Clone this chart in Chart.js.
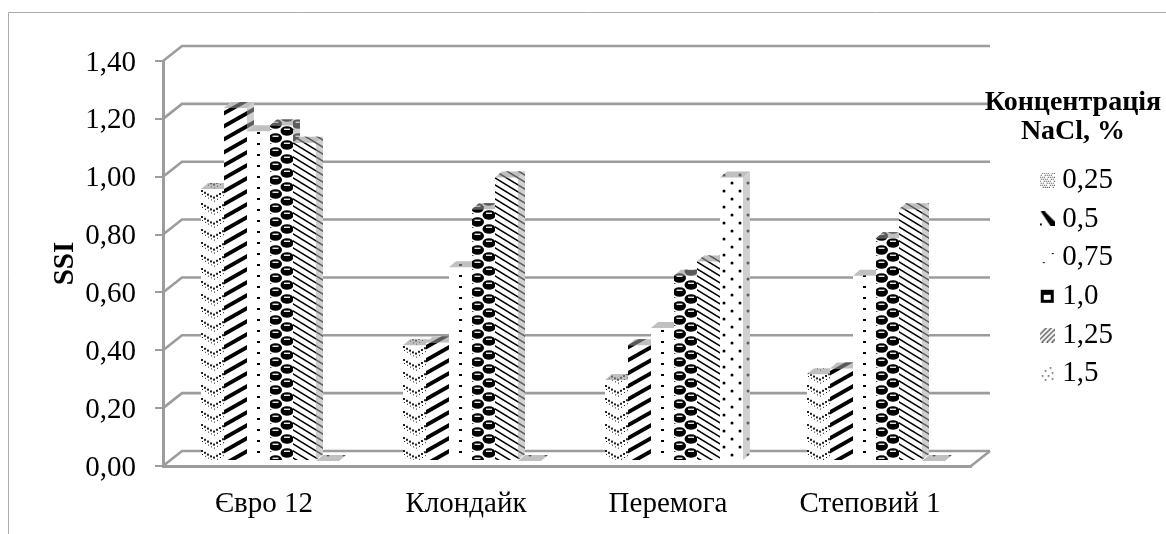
<!DOCTYPE html>
<html>
<head>
<meta charset="utf-8">
<style>html,body{margin:0;padding:0;background:#fff}#wrap{width:1166px;height:534px;position:relative}</style>
<script src="https://cdn.jsdelivr.net/npm/chart.js@4"></script>
</head>
<body>
<div id="wrap"><canvas id="chart" width="1166" height="534"></canvas></div>
<script>
// SSI by variety and NaCl concentration
const categories = ['Євро 12', 'Клондайк', 'Перемога', 'Степовий 1'];
const concentrations = ['0,25', '0,5', '0,75', '1,0', '1,25', '1,5'];
const legendHeading = ['Концентрація', 'NaCl, %'];
const ssi025 = [0.94, 0.40, 0.28, 0.30];
const ssi05  = [1.22, 0.41, 0.40, 0.32];
const ssi075 = [1.14, 0.67, 0.46, 0.64];
const ssi10  = [1.16, 0.87, 0.64, 0.77];
const ssi125 = [1.10, 0.98, 0.69, 0.87];
const ssi15  = [0.00, 0.00, 0.98, 0.00];
const seriesValues = [ssi025, ssi05, ssi075, ssi10, ssi125, ssi15];

const SERIF = '"Liberation Serif", "Times New Roman", serif';
const AXIS_GRAY = '#9c9c9c';
const BAR_W = 23, GROUP_W = BAR_W * 6;
const SHIFT_X = 6, SHIFT_Y = -5;      // bars stand inside the floor, not on its front edge
const DEPTH_X = 7, DEPTH_Y = -6;      // depth of each column
const WALL_X = 19, WALL_Y = -15;      // offset of the back wall

function tile(w, h, paint) {
  const c = document.createElement('canvas');
  c.width = w; c.height = h;
  const g = c.getContext('2d');
  g.fillStyle = '#fff'; g.fillRect(0, 0, w, h);
  g.fillStyle = '#000'; g.strokeStyle = '#000';
  paint(g, w, h);
  return c;
}
function poly(g, pts) {
  g.beginPath();
  pts.forEach((p, i) => i ? g.lineTo(p[0], p[1]) : g.moveTo(p[0], p[1]));
  g.closePath(); g.fill();
}

// Monochrome fills, one per concentration
const tiles = [
  tile(23, 13, g => {           // dotted chevrons
    g.fillStyle = '#222';
    for (let x = 0; x <= 23; x += 3) {
      const y = x <= 11.5 ? x * 0.6 : (23 - x) * 0.6;
      g.fillRect(x, y, 2, 2);
      g.fillRect(x + 1, (y + 4) % 13, 1, 1);
    }
  }),
  tile(23, 13, g => {           // heavy rising stripes
    [-13, 0, 13].forEach(o => poly(g, [[0, 13 + o - 1], [23, o - 1], [23, o + 3.5], [0, 13 + o + 3.5]]));
  }),
  tile(23, 11, g => { g.fillRect(10, 5, 3, 2); }),   // sparse dots
  tile(23, 14, g => {           // staggered beads
    const bead = (cx, cy) => {
      g.fillStyle = '#000';
      g.beginPath(); g.ellipse(cx, cy, 6.5, 4.8, 0, 0, Math.PI * 2); g.fill();
      g.fillStyle = '#fff'; g.fillRect(cx - 3, cy - 2.4, 6, 1.3);
    };
    bead(5.5, 3); bead(5.5, 17); bead(5.5, -11);
    bead(17, 10); bead(17, -4);
    g.fillStyle = '#555'; g.fillRect(0, 8, 1.5, 1); g.fillRect(11, 1, 1, 1);
  }),
  tile(23, 14, g => {           // thin falling stripes
    for (let o = -14; o <= 14; o += 7) {
      poly(g, [[0, o], [23, o + 14], [23, o + 15.8], [0, o + 1.8]]);
    }
  }),
  tile(16, 16, g => {           // staggered dots
    g.beginPath(); g.arc(4, 4, 1.5, 0, Math.PI * 2); g.arc(12, 12, 1.5, 0, Math.PI * 2); g.fill();
    g.fillRect(3, 3, 2, 2); g.fillRect(11, 11, 2, 2);
  })
];

// Small legend keys
const keys = [
  tile(15, 15, g => {
    g.fillStyle = '#444';
    for (let y = 0; y < 15; y += 2) for (let x = (y % 4 ? 1 : 0); x < 15; x += 2) if ((x + y) % 5) g.fillRect(x, y, 1, 1);
  }),
  tile(15, 15, g => {
    poly(g, [[1, 0], [5, 0], [15, 10], [15, 15], [11, 15]]);
    g.fillRect(0, 12, 2, 2);
  }),
  tile(15, 15, g => { g.fillRect(12, 3, 2, 1); g.fillRect(3, 12, 2, 1); }),
  tile(15, 15, g => {
    g.fillRect(1, 1, 13, 13);
    g.fillStyle = '#fff'; g.fillRect(4, 6, 7, 5); g.fillRect(0, 4, 1, 2);
  }),
  tile(15, 15, g => {
    g.strokeStyle = '#333'; g.lineWidth = 1.2;
    for (let o = 0; o <= 24; o += 5) { g.beginPath(); g.moveTo(o - 8, 15); g.lineTo(o + 7, 0); g.stroke(); }
  }),
  tile(15, 15, g => {
    g.fillStyle = '#444';
    [[10, 1], [5, 4], [12, 6], [2, 9], [8, 9], [5, 13], [12, 12]].forEach(p => g.fillRect(p[0], p[1], 1.5, 1.5));
  })
];

// Each bar's fill starts at the bar's own left edge
function barFill(chart, series, index) {
  const pattern = chart.ctx.createPattern(tiles[series], 'repeat');
  const xs = chart.scales.x;
  if (xs && index !== undefined) {
    const left = xs.getPixelForValue(index) - GROUP_W / 2 + series * BAR_W;
    pattern.setTransform(new DOMMatrix().translate(left, 0));
  }
  return pattern;
}

// Columns are painted left to right so each front face covers its neighbour's side
const columns3d = {
  id: 'columns3d',
  beforeDatasetsDraw(chart) {
    const ctx = chart.ctx;
    chart.getSortedVisibleDatasetMetas().forEach(meta => {
      ctx.save();
      ctx.translate(SHIFT_X, SHIFT_Y);
      meta.controller.draw();
      meta.data.forEach(bar => {
        const l = bar.x - bar.width / 2, r = bar.x + bar.width / 2;
        const side = [[r, bar.y], [r + DEPTH_X, bar.y + DEPTH_Y], [r + DEPTH_X, bar.base + DEPTH_Y], [r, bar.base]];
        const top = [[l, bar.y], [l + DEPTH_X, bar.y + DEPTH_Y], [r + DEPTH_X, bar.y + DEPTH_Y], [r, bar.y]];
        [[side, 'rgba(170,170,170,0.55)'], [top, 'rgba(150,150,150,0.6)']].forEach(([pts, shade]) => {
          ctx.fillStyle = bar.options.backgroundColor;
          poly(ctx, pts);
          ctx.fillStyle = shade;
          poly(ctx, pts);
        });
      });
      ctx.restore();
    });
  },
  beforeDatasetDraw() {
    return false;
  }
};

const backWall = {
  id: 'backWall',
  beforeDraw(chart) {
    const ctx = chart.ctx;
    ctx.save();
    ctx.strokeStyle = '#ababab'; ctx.lineWidth = 1;
    ctx.beginPath();
    ctx.moveTo(8.5, 534); ctx.lineTo(8.5, 12.5); ctx.lineTo(1166, 12.5);
    ctx.stroke();
    ctx.restore();
  },
  beforeDatasetsDraw(chart) {
    const ctx = chart.ctx, { left, right } = chart.chartArea, ys = chart.scales.y;
    ctx.save();
    ctx.strokeStyle = AXIS_GRAY; ctx.lineWidth = 2.6;
    ys.ticks.forEach(t => {
      const y = ys.getPixelForValue(t.value);
      ctx.beginPath();
      ctx.moveTo(left, y);
      ctx.lineTo(left + WALL_X, y + WALL_Y);
      ctx.lineTo(right + WALL_X, y + WALL_Y);
      ctx.stroke();
    });
    const y0 = ys.getPixelForValue(0);
    ctx.beginPath();
    ctx.moveTo(right, y0);
    ctx.lineTo(right + WALL_X, y0 + WALL_Y);
    ctx.stroke();
    ctx.restore();
  }
};

// The key sits to the right of the plot without narrowing it
const legendPlacement = {
  id: 'legendPlacement',
  afterLayout(chart) {
    const lg = chart.legend;
    lg.left = 1037; lg.width = 129; lg.right = lg.left + lg.width;
    lg.top = 156; lg.bottom = lg.top + lg.height;
  },
  afterDraw(chart) {
    const ctx = chart.ctx;
    ctx.save();
    ctx.font = 'bold 28px ' + SERIF;
    ctx.fillStyle = '#000';
    ctx.textAlign = 'center';
    ctx.textBaseline = 'middle';
    legendHeading.forEach((line, i) => ctx.fillText(line, 1073, 103 + i * 29));
    ctx.restore();
  }
};

new Chart(document.getElementById('chart'), {
  type: 'bar',
  plugins: [backWall, columns3d, legendPlacement],
  data: {
    labels: categories,
    datasets: seriesValues.map((values, s) => ({
      label: concentrations[s],
      data: values,
      clip: false,
      borderWidth: 0,
      barPercentage: 1,
      categoryPercentage: GROUP_W / 202,
      backgroundColor: c => barFill(c.chart, s, c.dataIndex)
    }))
  },
  options: {
    responsive: false,
    animation: false,
    events: [],
    layout: { padding: { left: 0, right: 195, top: 61, bottom: 0 } },
    scales: {
      x: {
        afterFit: s => { s.height = 68; },
        grid: { display: false },
        border: { color: AXIS_GRAY, width: 3 },
        ticks: { color: '#000', padding: 13, font: { family: SERIF, size: 29 }, maxRotation: 0 }
      },
      y: {
        min: 0, max: 1.4,
        afterFit: s => { s.width = 163; },
        title: {
          display: true, text: 'SSI', color: '#000', padding: { top: 48, bottom: 0 },
          font: { family: SERIF, size: 29, weight: 'bold' }
        },
        grid: { drawOnChartArea: false, color: AXIS_GRAY, tickColor: AXIS_GRAY, tickLength: 8, lineWidth: 2 },
        border: { color: AXIS_GRAY, width: 3 },
        ticks: {
          stepSize: 0.2, autoSkip: false, color: '#000', padding: 19, labelOffset: 2,
          font: { family: SERIF, size: 29 },
          callback: v => v.toFixed(2).replace('.', ',')
        }
      }
    },
    plugins: {
      tooltip: { enabled: false },
      title: { display: false },
      legend: {
        position: 'chartArea',
        align: 'start',
        labels: {
          color: '#000', padding: 9.7, boxWidth: 15, boxHeight: 15,
          usePointStyle: true, pointStyleWidth: 1,
          font: { family: SERIF, size: 29 },
          generateLabels: () => concentrations.map((text, i) => ({
            text, datasetIndex: i, pointStyle: keys[i], fillStyle: '#fff',
            strokeStyle: '#fff', lineWidth: 0, hidden: false, fontColor: '#000'
          }))
        }
      }
    }
  }
});
</script>
</body>
</html>
